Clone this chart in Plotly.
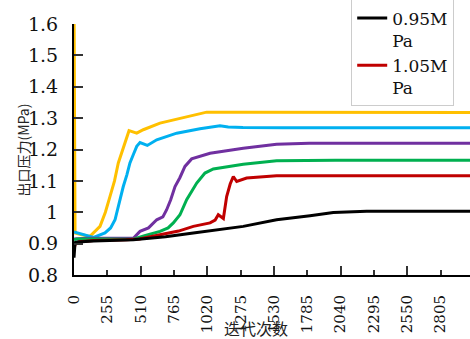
import plotly.graph_objects as go

# Iterations (x) and outlet pressure (MPa) for each series
black_x = [0, 8, 30, 150, 454, 700, 913, 1100, 1295, 1550, 1729, 1806, 1984, 2239, 2500, 3030]
black_y = [0.855, 0.903, 0.905, 0.908, 0.912, 0.922, 0.934, 0.944, 0.955, 0.976, 0.984, 0.989, 0.999, 1.003, 1.003, 1.003]

red_x = [0, 10, 40, 150, 400, 500, 658, 800, 913, 1041, 1080, 1104, 1143, 1168, 1195, 1219, 1245, 1321, 1550, 2000, 3030]
red_y = [0.885, 0.898, 0.906, 0.910, 0.912, 0.915, 0.928, 0.940, 0.955, 0.966, 0.975, 0.992, 0.980, 1.050, 1.090, 1.114, 1.098, 1.109, 1.116, 1.116, 1.116]

green_x = [0, 20, 200, 454, 540, 658, 720, 760, 811, 862, 939, 1002, 1066, 1295, 1550, 2000, 3030]
green_y = [0.912, 0.915, 0.915, 0.914, 0.925, 0.939, 0.950, 0.966, 0.992, 1.040, 1.093, 1.125, 1.138, 1.153, 1.164, 1.166, 1.166]

purple_x = [0, 100, 300, 454, 505, 570, 633, 680, 709, 740, 773, 810, 849, 900, 1041, 1295, 1550, 1800, 3030]
purple_y = [0.915, 0.917, 0.917, 0.917, 0.939, 0.950, 0.976, 0.985, 1.008, 1.040, 1.082, 1.110, 1.146, 1.170, 1.188, 1.204, 1.217, 1.220, 1.220]

cyan_x = [0, 60, 150, 237, 280, 314, 345, 377, 405, 428, 455, 480, 505, 561, 633, 786, 964, 1117, 1180, 1293, 1600, 3030]
cyan_y = [0.937, 0.930, 0.920, 0.934, 0.950, 0.976, 1.030, 1.082, 1.120, 1.157, 1.185, 1.210, 1.222, 1.213, 1.231, 1.252, 1.266, 1.276, 1.272, 1.270, 1.269, 1.269]

yellow_x = [0, 8, 60, 122, 199, 240, 275, 310, 339, 390, 421, 480, 530, 658, 811, 1015, 1300, 3030]
yellow_y = [1.70, 0.934, 0.928, 0.923, 0.955, 1.000, 1.050, 1.100, 1.157, 1.221, 1.260, 1.252, 1.263, 1.284, 1.300, 1.319, 1.319, 1.318]

x_ticks = [0, 255, 510, 765, 1020, 1275, 1530, 1785, 2040, 2295, 2550, 2805]
x_major = [0, 510, 1020, 1530, 2040, 2550]
y_ticks = [0.8, 0.9, 1.0, 1.1, 1.2, 1.3, 1.4, 1.5, 1.6]
y_labels = ["0.8", "0.9", "1", "1.1", "1.2", "1.3", "1.4", "1.5", "1.6"]

series = [
    ("others-yellow", yellow_x, yellow_y, "#FFC000", False),
    ("others-cyan", cyan_x, cyan_y, "#00B0F0", False),
    ("others-purple", purple_x, purple_y, "#7030A0", False),
    ("others-green", green_x, green_y, "#00B050", False),
    ("1.05M<br>Pa", red_x, red_y, "#C00000", True),
    ("0.95M<br>Pa", black_x, black_y, "#000000", True),
]

fig = go.Figure()
for name, xs, ys, color, show in series:
    fig.add_trace(go.Scatter(x=xs, y=ys, mode="lines", name=name,
                             line=dict(color=color, width=3),
                             showlegend=show))

serif = "DejaVu Serif"
fig.update_layout(
    width=470, height=339,
    margin=dict(l=74, r=0, t=24, b=64, autoexpand=False),
    paper_bgcolor="white", plot_bgcolor="white",
    font=dict(family=serif, color="#111"),
    showlegend=True,
    legend=dict(x=0.7, y=1.098, xanchor="left", yanchor="top",
                bgcolor="white", bordercolor="#cccccc", borderwidth=1,
                font=dict(size=17, family=serif, color="#111"),
                traceorder="reversed", valign="top", tracegroupgap=0),
    xaxis=dict(range=[0, 3030], tickvals=x_ticks, ticktext=[str(v) for v in x_ticks],
               tickangle=-90, ticks="inside", ticklen=5, tickwidth=1.5, tickcolor="#333",
               showline=True, linecolor="#000", linewidth=2, showgrid=False, zeroline=False,
               automargin=False,
               tickfont=dict(size=15, family=serif, color="#111"), ticklabelstandoff=12),
    xaxis2=dict(range=[0, 3030], overlaying="x", anchor="y", side="bottom",
                tickvals=x_major, ticks="inside", ticklen=9, tickwidth=1.5, tickcolor="#333",
                showticklabels=False, showline=False, showgrid=False, zeroline=False,
                automargin=False),
    yaxis=dict(range=[0.8, 1.6], tickvals=y_ticks, ticktext=y_labels,
               ticks="inside", ticklen=9, tickwidth=1.5, tickcolor="#333",
               showline=True, linecolor="#000", linewidth=2, showgrid=False, zeroline=False,
               automargin=False,
               tickfont=dict(size=19, family=serif, color="#111"), ticklabelstandoff=10),
)
fig.add_trace(go.Scatter(x=[None], y=[None], xaxis="x2", showlegend=False, hoverinfo="skip"))

fig.add_annotation(text="出口压力(MPa)", xref="paper", yref="paper",
                   x=(22 - 74) / 396, y=0.5, xanchor="center", yanchor="middle",
                   textangle=-90, showarrow=False,
                   font=dict(size=14, family="Noto Sans CJK SC", color="#222"))
fig.add_annotation(text="迭代次数", xref="paper", yref="paper",
                   x=(256 - 74) / 396, y=(275 - 328) / 251, xanchor="center", yanchor="middle",
                   showarrow=False,
                   font=dict(size=16, family="Noto Sans CJK SC", color="#222"))

fig.write_html("out.html", post_script="document.body.style.margin='0';",
               config={"displayModeBar": False})
